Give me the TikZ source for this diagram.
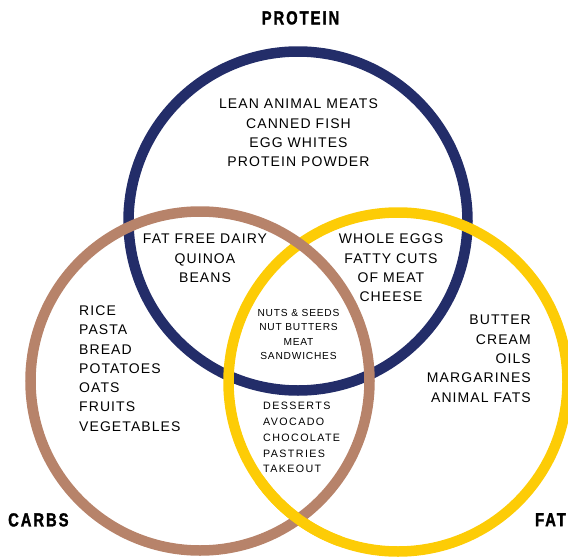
\documentclass[tikz,border=0pt]{standalone}
\usepackage{fontspec}
\newfontfamily\listfont[LetterSpace=7.7]{Liberation Sans}
\newfontfamily\headfont[FakeStretch=0.78,FakeBold=1.6,LetterSpace=10.5]{Liberation Sans}
\definecolor{protcol}{RGB}{35,45,105}
\definecolor{carbcol}{RGB}{183,131,106}
\definecolor{fatcol}{RGB}{253,204,6}

\begin{document}
\begin{tikzpicture}[x=1pt,y=-1pt,
    ring/.style={line width=10.5pt},
    food/.style={inner sep=0pt,align=center,font=\listfont\fontsize{14}{19.3}\selectfont},
    smallfood/.style={inner sep=0pt,align=center,font=\listfont\fontsize{10.2}{14.5}\selectfont},
    title/.style={inner sep=0pt,font=\headfont\bfseries\fontsize{18.9}{20}\selectfont}]
    \useasboundingbox (0,0) rectangle (568,557);
    \draw[ring,protcol] (298,221) circle[radius=169.5];
    \draw[ring,fatcol] (398,382) circle[radius=169.5];
    \draw[ring,carbcol] (200,381) circle[radius=169.5];
    \draw[ring,fatcol] (398,382) ++(110:169.5) arc[start angle=110,end angle=145,radius=169.5];
    \node[title,anchor=north] (protein) at (300.5,11) {PROTEIN};
    \node[title,anchor=north west] (carbs) at (8,513) {CARBS};
    \node[title,anchor=north east] (fat) at (566,513) {FAT};
    \node[food,anchor=north] (proteinonly) at (298.5,99) {LEAN ANIMAL MEATS\\CANNED FISH\\EGG WHITES\\PROTEIN POWDER};
    \node[food,anchor=north] (proteincarbs) at (205,234) {FAT FREE DAIRY\\QUINOA\\BEANS};
    \node[food,anchor=north] (proteinfat) at (391,234) {WHOLE EGGS\\FATTY CUTS\\OF MEAT\\CHEESE};
    \node[food,anchor=north west,align=left] (carbsonly) at (79,305.5) {RICE\\PASTA\\BREAD\\POTATOES\\OATS\\FRUITS\\VEGETABLES};
    \node[food,anchor=north east,align=right] (fatonly) at (531,315) {BUTTER\\CREAM\\OILS\\MARGARINES\\ANIMAL FATS};
    \node[smallfood,anchor=north] (allthree) at (298.5,308.7) {NUTS \& SEEDS\\NUT BUTTERS\\MEAT\\SANDWICHES};
    \node[smallfood,anchor=north west,align=left,font=\listfont\addfontfeature{LetterSpace=13}\fontsize{10.7}{15.7}\selectfont] (carbsfat) at (263,402.3) {DESSERTS\\AVOCADO\\CHOCOLATE\\PASTRIES\\TAKEOUT};
\end{tikzpicture}
\end{document}
